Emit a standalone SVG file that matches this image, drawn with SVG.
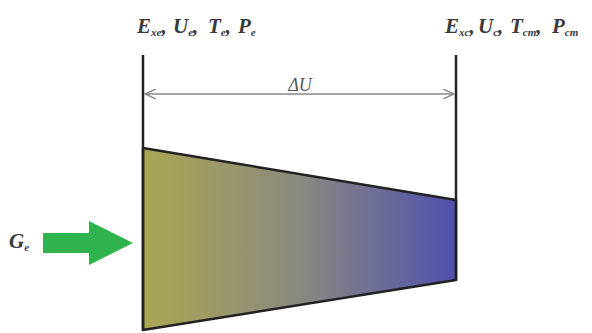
<svg xmlns="http://www.w3.org/2000/svg" width="592" height="333" viewBox="0 0 592 333">
<style>
.lbl{font-family:"Liberation Serif","DejaVu Serif",serif;font-style:italic;font-weight:bold;font-size:21px;fill:#3a3a3a}
.sub{font-size:11px}
.wall{stroke:#222;stroke-width:2.5;fill:none}
.dim{stroke:#888;stroke-width:1.5;fill:none}
</style>
<defs>
<linearGradient id="g" x1="0" y1="0" x2="1" y2="0">
<stop offset="0" stop-color="#aaa652"/>
<stop offset="0.5" stop-color="#8a8a80"/>
<stop offset="1" stop-color="#5050ae"/>
</linearGradient>
<marker id="ah" markerWidth="12" markerHeight="10" refX="11" refY="5" orient="auto-start-reverse" markerUnits="userSpaceOnUse">
<path d="M0,0 L11,5 L0,10" fill="none" stroke="#888" stroke-width="1.5"/>
</marker>
</defs>
<g id="channel">
<polygon points="143,148 456,200 456,280 143,330" fill="url(#g)" stroke="#222" stroke-width="2.5" stroke-linejoin="round"/>
</g>
<g id="walls">
<line class="wall" x1="143" y1="55" x2="143" y2="331"/>
<line class="wall" x1="456" y1="55" x2="456" y2="281"/>
</g>
<g id="connectors">
<line class="dim" x1="145" y1="94" x2="454" y2="94" marker-start="url(#ah)" marker-end="url(#ah)"/>
</g>
<g id="dU">
<text class="lbl" x="300" y="91" text-anchor="middle" style="font-weight:normal;font-size:18px;fill:#555">ΔU</text>
</g>
<g id="inlet">
<text class="lbl" y="33"><tspan x="137">E</tspan><tspan class="sub" dy="3">xe</tspan><tspan dy="-3">,</tspan><tspan x="173">U</tspan><tspan class="sub" dy="3">e</tspan><tspan dy="-3">,</tspan><tspan x="208">T</tspan><tspan class="sub" dy="3">e</tspan><tspan dy="-3">,</tspan><tspan x="238">P</tspan><tspan class="sub" dy="3">e</tspan></text>
</g>
<g id="outlet">
<text class="lbl" y="33"><tspan x="445">E</tspan><tspan class="sub" dy="3">xc</tspan><tspan dy="-3">,</tspan><tspan x="478">U</tspan><tspan class="sub" dy="3">c</tspan><tspan dy="-3">,</tspan><tspan x="510">T</tspan><tspan class="sub" dy="3">cm</tspan><tspan dy="-3">,</tspan><tspan x="552">P</tspan><tspan class="sub" dy="3">cm</tspan></text>
</g>
<g id="flow">
<polygon points="43,233 89,233 89,221 133,243 89,265 89,253 43,253" fill="#2fb34c"/>
<text class="lbl" x="9" y="248">G<tspan class="sub" dy="3">e</tspan></text>
</g>
</svg>
